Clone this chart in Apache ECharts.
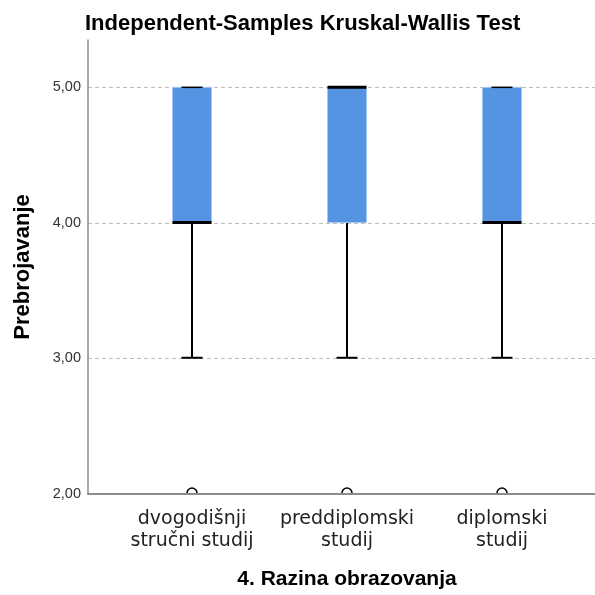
<!DOCTYPE html>
<html>
<head>
<meta charset="utf-8">
<script src="https://cdn.jsdelivr.net/npm/echarts@6/dist/echarts.min.js"></script>
<style>
  html, body { margin: 0; padding: 0; background: #fff; }
  #chart { width: 595px; height: 595px; }
</style>
</head>
<body>
<div id="chart"></div>
<script>
// categories on the x axis
const categories = ['dvogodišnji\nstručni studij', 'preddiplomski\nstudij', 'diplomski\nstudij'];
// box statistics per group
const mins    = [3, 3, 3];
const q1s     = [4, 4, 4];
const medians = [4, 5, 4];
const q3s     = [5, 5, 5];
const maxs    = [5, 5, 5];
// outliers: [group index, value]
const outliers = [[0, 2], [1, 2], [2, 2]];
// y axis range
const yMin = 2;
const yMax = 5.35;

const boxData = categories.map((c, i) => [i, mins[i], q1s[i], medians[i], q3s[i], maxs[i]]);

const chart = echarts.init(document.getElementById('chart'));

function renderBox(params, api) {
  const x = api.value(0);
  const pMin = api.coord([x, api.value(1)]);
  const pQ1 = api.coord([x, api.value(2)]);
  const pMed = api.coord([x, api.value(3)]);
  const pQ3 = api.coord([x, api.value(4)]);
  const pMax = api.coord([x, api.value(5)]);
  const cx = pQ1[0];
  const bw = 39, cap = 21;
  const line = (x1, y1, x2, y2, w) => ({
    type: 'line',
    shape: { x1: x1, y1: y1, x2: x2, y2: y2 },
    style: { stroke: '#000', lineWidth: w }
  });
  return {
    type: 'group',
    children: [
      line(cx, pQ1[1], cx, pMin[1], 2),
      line(cx - cap / 2, pMin[1], cx + cap / 2, pMin[1], 2),
      line(cx, pQ3[1], cx, pMax[1], 2),
      {
        type: 'rect',
        shape: { x: cx - bw / 2, y: pQ3[1], width: bw, height: pQ1[1] - pQ3[1] },
        style: { fill: '#5594e3', stroke: '#a6c8f2', lineWidth: 1 }
      },
      line(cx - cap / 2, pMax[1], cx + cap / 2, pMax[1], 1.5),
      line(cx - bw / 2, pMed[1], cx + bw / 2, pMed[1], 3)
    ]
  };
}

function renderOutlier(params, api) {
  const p = api.coord([api.value(0), api.value(1)]);
  return {
    type: 'circle',
    shape: { cx: p[0], cy: p[1], r: 5 },
    style: { fill: '#fff', stroke: '#000', lineWidth: 1.5 }
  };
}

const option = {
  animation: false,
  title: {
    text: 'Independent-Samples Kruskal-Wallis Test',
    left: 80,
    top: 8,
    textStyle: { fontFamily: 'Liberation Sans', fontSize: 22, fontWeight: 'bold', color: '#000' }
  },
  grid: [
    { left: 88, right: 0, top: 40, bottom: 101 },
    { left: 114.5, right: 15.5, top: 40, bottom: 101 }
  ],
  xAxis: [
    {
      gridIndex: 0,
      type: 'value',
      min: 0,
      max: 1,
      axisLine: { show: true, lineStyle: { color: '#8c8c8c', width: 2 } },
      axisTick: { show: false },
      axisLabel: { show: false },
      splitLine: { show: false },
      z: 5
    },
    {
      gridIndex: 1,
      type: 'category',
      data: categories,
      axisLine: { show: false },
      axisTick: { show: false },
      axisLabel: {
        interval: 0,
        hideOverlap: false,
        margin: 15,
        fontFamily: 'DejaVu Sans',
        fontSize: 19,
        lineHeight: 22,
        color: '#222'
      },
      name: '4. Razina obrazovanja',
      nameLocation: 'middle',
      nameGap: 76,
      nameTextStyle: { fontFamily: 'Liberation Sans', fontSize: 21, fontWeight: 'bold', color: '#000' }
    }
  ],
  yAxis: [
    {
      gridIndex: 0,
      type: 'value',
      min: yMin,
      max: yMax,
      interval: 1,
      axisLine: { show: true, lineStyle: { color: '#8c8c8c', width: 1.5 } },
      axisTick: { show: false },
      axisLabel: {
        showMaxLabel: false,
        margin: 7,
        fontFamily: 'Liberation Sans',
        fontSize: 14.5,
        color: '#333',
        formatter: v => (Number.isInteger(v) ? v.toFixed(2).replace('.', ',') : '')
      },
      splitLine: {
        show: true,
        showMinLine: false,
        showMaxLine: false,
        lineStyle: { color: '#bdbdbd', type: [4, 3], width: 1 }
      },
      name: 'Prebrojavanje',
      nameLocation: 'middle',
      nameGap: 54,
      nameTextStyle: { fontFamily: 'Liberation Sans', fontSize: 22, fontWeight: 'bold', color: '#000' }
    },
    {
      gridIndex: 1,
      type: 'value',
      min: yMin,
      max: yMax,
      show: false
    }
  ],
  series: [
    {
      type: 'custom',
      xAxisIndex: 1,
      yAxisIndex: 1,
      renderItem: renderBox,
      encode: { x: 0, y: [1, 2, 3, 4, 5] },
      data: boxData,
      z: 3
    },
    {
      type: 'custom',
      xAxisIndex: 1,
      yAxisIndex: 1,
      renderItem: renderOutlier,
      encode: { x: 0, y: 1 },
      clip: true,
      data: outliers,
      z: 1
    }
  ]
};

chart.setOption(option);
</script>
</body>
</html>
